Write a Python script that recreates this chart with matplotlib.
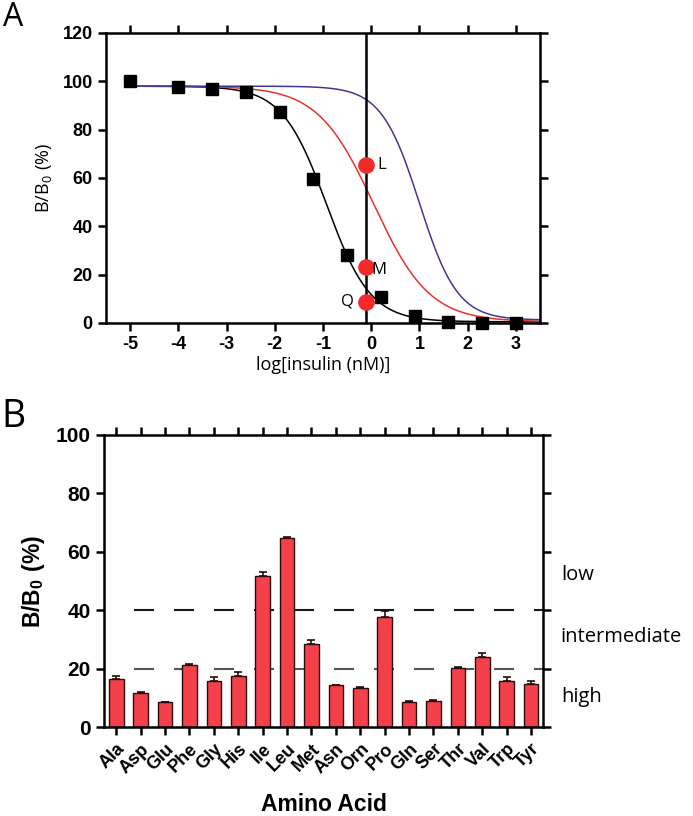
import numpy as np
import matplotlib
matplotlib.use("Agg")
import matplotlib.pyplot as plt

plt.rcParams['font.family'] = ['Liberation Sans', 'DejaVu Sans']
plt.rcParams['mathtext.fontset'] = 'custom'
plt.rcParams['mathtext.rm'] = 'Open Sans'
plt.rcParams['mathtext.bf'] = 'Liberation Sans:bold'
plt.rcParams['axes.unicode_minus'] = False

# ---------------- Panel A data ----------------
std_log_dose = [-5.0, -4.0, -3.3, -2.6, -1.9, -1.2, -0.5, 0.2, 0.9, 1.6, 2.3, 3.0]
std_response = [100.0, 97.6, 96.8, 95.4, 87.5, 59.6, 28.2, 10.6, 3.0, 0.5, 0.0, 0.0]

sample_log_dose = -0.1
sample_labels = ['L', 'M', 'Q']
sample_response = [65.2, 23.3, 8.8]

# four-parameter logistic fits: top, bottom, logIC50, hill slope
fit_colors = ['black', '#e8322e', '#3b3b96']
fit_top = [98.0, 98.0, 98.0]
fit_bottom = [0.5, 0.5, 1.2]
fit_logic50 = [-0.93, 0.05, 1.0]
fit_hill = [0.95, 0.75, 1.1]

# ---------------- Panel B data ----------------
amino_acids = ['Ala', 'Asp', 'Glu', 'Phe', 'Gly', 'His', 'Ile', 'Leu', 'Met',
               'Asn', 'Orn', 'Pro', 'Gln', 'Ser', 'Thr', 'Val', 'Trp', 'Tyr']
bb0_mean = [16.6, 11.9, 8.7, 21.3, 15.9, 17.6, 51.6, 64.6, 28.6,
            14.4, 13.6, 37.8, 8.7, 9.1, 20.2, 24.2, 16.0, 14.7]
bb0_err = [0.8, 0.2, 0.1, 0.3, 1.4, 1.2, 1.7, 0.6, 1.1,
           0.2, 0.3, 1.9, 0.2, 0.4, 0.3, 1.2, 1.1, 1.3]
thresholds = [20, 40]
threshold_colors = ['#555555', '#1a1a1a']
zone_labels = ['low', 'intermediate', 'high']
zone_label_y = [52, 31, 10.5]

fig = plt.figure(figsize=(6.93, 8.16), dpi=100)

# ================= Panel A =================
axA = fig.add_axes([106/693, 1-323/816, 434/693, 290/816])
xs = np.linspace(-5.0, 3.5, 400)
for c, t, b, ic, h in zip(fit_colors, fit_top, fit_bottom, fit_logic50, fit_hill):
    ys = b + (t - b) / (1 + 10 ** ((xs - ic) * h))
    axA.plot(xs, ys, color=c, lw=1.1, zorder=2)
axA.axvline(sample_log_dose, color='black', lw=1.8, zorder=3)
axA.plot(std_log_dose, std_response, 's', color='black', ms=8, zorder=4, clip_on=False)
axA.plot([sample_log_dose]*3, sample_response, 'o', color='#f22a2a', ms=11, zorder=5)
for lab, y in zip(sample_labels, sample_response):
    if lab == 'Q':
        axA.text(sample_log_dose - 0.25, y, lab, ha='right', va='center',
                 fontsize=12, family='Open Sans', zorder=6)
    elif lab == 'M':
        axA.text(sample_log_dose + 0.1, y - 1.5, lab, ha='left', va='center',
                 fontsize=12, family='Open Sans', zorder=6)
    else:
        axA.text(sample_log_dose + 0.22, y, lab, ha='left', va='center',
                 fontsize=12, family='Open Sans', zorder=6)

axA.set_xlim(-5.5, 3.5)
axA.set_ylim(0, 120)
axA.set_xticks(range(-5, 4))
axA.set_yticks(range(0, 121, 20))
axA.tick_params(axis='both', which='both', direction='out', width=1.8, length=6,
                labelsize=13, top=True, right=True, labeltop=False, labelright=False)
for lab in axA.get_xticklabels() + axA.get_yticklabels():
    lab.set_fontweight('bold')
for s in axA.spines.values():
    s.set_linewidth(1.8)
axA.set_xlabel('log[insulin (nM)]', family='Open Sans', fontsize=13, labelpad=2)
axA.set_ylabel(r'$\mathrm{B/B_0\ (\%)}$', fontsize=13, labelpad=6)
fig.text(3/693, 1-18/816, 'A', fontsize=23, family='Open Sans', va='center', ha='left')

# ================= Panel B =================
axB = fig.add_axes([104/693, 1-727.3/816, 439.3/693, 292.3/816])
xpos = np.arange(len(amino_acids))
axB.bar(xpos, bb0_mean, width=0.6, color='#f4404a', edgecolor='#2a0a0a', linewidth=1.0,
        yerr=[np.zeros(len(bb0_err)), bb0_err], capsize=3,
        error_kw=dict(ecolor='#2a0a0a', elinewidth=1.2, capthick=1.2), zorder=2)
for t, c in zip(thresholds, threshold_colors):
    axB.plot([0.74, 17.5], [t, t], color=c, lw=1.5,
             linestyle=(0, (9.6, 9.6)), zorder=1)
axB.set_xlim(-0.5, 17.5)
axB.set_ylim(0, 100)
axB.set_xticks(xpos)
axB.set_xticklabels(amino_acids, rotation=45, ha='right', rotation_mode='anchor',
                    fontsize=13, fontweight='bold')
axB.set_yticks(range(0, 101, 20))
axB.tick_params(axis='both', which='both', direction='out', width=1.8, length=6,
                labelsize=15, top=True, right=True, labeltop=False, labelright=False)
axB.tick_params(axis='x', labelsize=13)
for lab in axB.get_yticklabels():
    lab.set_fontweight('bold')
for s in axB.spines.values():
    s.set_linewidth(1.8)
axB.set_xlabel('Amino Acid', fontsize=16.5, fontweight='bold', labelpad=12)
axB.set_ylabel(r'$\mathbf{B/B_0\ (\%)}$', fontsize=16.5, labelpad=6)
for lab, y in zip(zone_labels, zone_label_y):
    axB.text(1.04, y / 100, lab, transform=axB.transAxes, ha='left', va='center',
             fontsize=14.5, family='Open Sans')
fig.text(1/693, 1-417/816, 'B', fontsize=27, family='Open Sans', va='center', ha='left')

fig.savefig('out.png', dpi=100)
